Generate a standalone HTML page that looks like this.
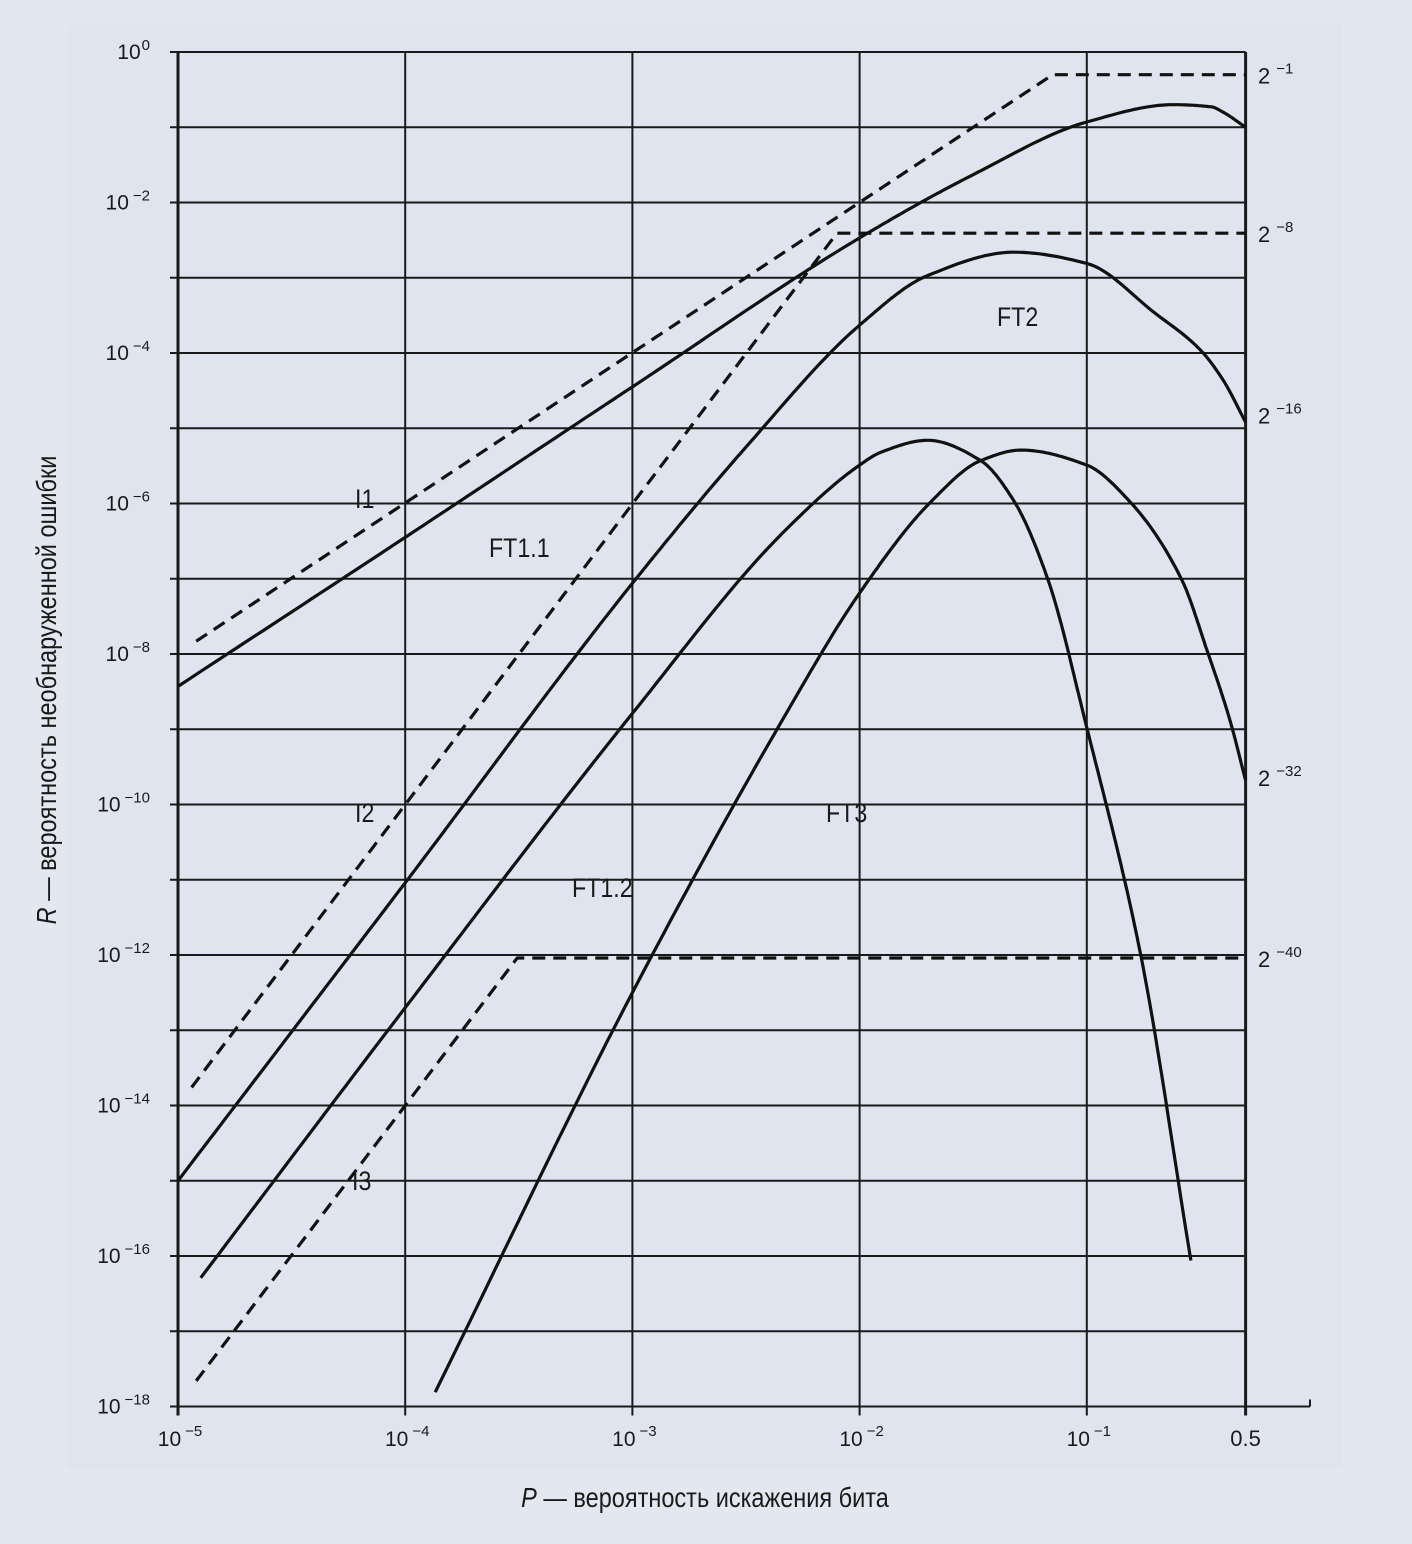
<!DOCTYPE html>
<html><head><meta charset="utf-8">
<style>
html,body{margin:0;padding:0;background:#e3e8f0;}
#wrap{position:relative;width:1412px;height:1544px;background:#e3e8f0;overflow:hidden;}
#panel{position:absolute;left:68px;top:25px;width:1274px;height:1443px;background:#dfe4ef;}
svg{position:absolute;left:0;top:0;}
text{font-family:"Liberation Sans","DejaVu Sans",sans-serif;fill:#1a1a1a;}
</style></head>
<body>
<div id="wrap">
<div id="panel"></div>
<svg id="chart" width="1412" height="1544"></svg>
</div>
<script>
// ---- data (log10 values) ----
const xTickExps = [-5,-4,-3,-2,-1];
const xTickLabels = ["10","10","10","10","10"];
const xTickSups = ["−5","−4","−3","−2","−1"];
const yTickExps = [0,-2,-4,-6,-8,-10,-12,-14,-16,-18];
const yTickSups = ["0","−2","−4","−6","−8","−10","−12","−14","−16","−18"];
const rightLabelVals = [-1,-8,-16,-32,-40]; // powers of 2

// Dashed bounds I1, I2, I3
const i1LogP = [-4.92,-1.15,-0.301];
const i1LogR = [-7.83,-0.301,-0.301];
const i2LogP = [-4.94,-2.10,-0.301];
const i2LogR = [-13.76,-2.408,-2.408];
const i3LogP = [-4.92,-3.507,-0.301];
const i3LogR = [-17.66,-12.04,-12.04];

// Solid curves
const aLogP = [-5,-4,-3,-2,-1.5,-1,-0.62,-0.45,-0.40,-0.301];
const aLogR = [-8.43,-6.45,-4.45,-2.47,-1.63,-0.93,-0.70,-0.73,-0.80,-1.0];
const ft2LogP = [-5,-4,-3,-2.5,-2,-1.7,-1.32,-1,-0.7,-0.5,-0.4,-0.301];
const ft2LogR = [-15.0,-11.04,-7.06,-5.25,-3.63,-2.97,-2.66,-2.81,-3.47,-3.96,-4.36,-4.92];
const cLogP = [-4.90,-4,-3,-2.348,-2,-1.907,-1.70,-1.467,-1.322,-1.17,-1.0,-0.762,-0.542];
const cLogR = [-16.29,-12.7,-8.79,-6.42,-5.49,-5.32,-5.16,-5.43,-5.96,-7.02,-8.98,-12.01,-16.06];
const dLogP = [-3.868,-3,-2.348,-2,-1.687,-1.467,-1.29,-1.0,-0.815,-0.581,-0.471,-0.37,-0.301];
const dLogR = [-17.81,-12.5,-8.92,-7.19,-5.98,-5.43,-5.29,-5.49,-5.96,-7.02,-7.95,-8.88,-9.68];

// ---- axes ----
const X0 = 178, XDEC = 227.2;
const Y0 = 52, YDEC = 75.25;
function xs(lp){ return X0 + (lp + 5) * XDEC; }
function ys(lr){ return Y0 - lr * YDEC; }
const XR = xs(Math.log10(0.5));
const YB = ys(-18);

const NS = "http://www.w3.org/2000/svg";
const svg = document.getElementById('chart');
function mk(tag, attrs, parent){
  const e = document.createElementNS(NS, tag);
  for (const k in attrs) e.setAttribute(k, attrs[k]);
  (parent||svg).appendChild(e);
  return e;
}

// grid
const grid = mk('g', {stroke:'#1a1a1a','stroke-width':2,fill:'none'});


for (let d = 0; d >= -18; d--) {
  const y = ys(d);
  const ln = mk('line', {x1:170, x2:(d===-18?1310:XR), y1:y, y2:y}, grid);
  
  
}
xTickExps.concat([Math.log10(0.5)]).forEach(function(e){
  const x = xs(e);
  const ln = mk('line', {x1:x, x2:x, y1:Y0, y2:YB+9, 'stroke-width':(e===-5||e>-0.5)?3:2}, grid);
  
  
});
const endTick = mk('line', {x1:1310, x2:1310, y1:YB-7, y2:YB}, grid);



// y tick labels
yTickExps.forEach(function(e, i){
  const t = mk('text', {x:150, y:ys(e)+7, 'text-anchor':'end', 'font-size':21});
  
  
  const b = mk('tspan', {}, t); b.textContent = '10';
  const s = mk('tspan', {dy:-9, 'font-size':15, dx:(e===0?1:4)}, t); s.textContent = yTickSups[i];
});
// x tick labels
xTickExps.forEach(function(e, i){
  const t = mk('text', {x:xs(e)+2, y:1446, 'text-anchor':'middle', 'font-size':21});
  
  
  const b = mk('tspan', {}, t); b.textContent = xTickLabels[i];
  const s = mk('tspan', {dy:-10, 'font-size':15, dx:4}, t); s.textContent = xTickSups[i];
});
const half = mk('text', {x:XR, y:1446, 'text-anchor':'middle', 'font-size':22});
half.textContent = '0.5';



// right labels (powers of 2)
rightLabelVals.forEach(function(p){
  const y = ys(p * Math.log10(2));
  const t = mk('text', {x:1258, y:y+9, 'font-size':22});
  
  
  const b = mk('tspan', {}, t); b.textContent = '2';
  const s = mk('tspan', {dy:-10, dx:6, 'font-size':15}, t); s.textContent = '−' + (-p);
});

// monotone cubic interpolation (Fritsch-Carlson) in log space, sampled densely
function smoothPath(lp, lr){
  const n = lp.length;
  const dx = [], sl = [];
  for (let i = 0; i < n-1; i++){ dx.push(lp[i+1]-lp[i]); sl.push((lr[i+1]-lr[i])/dx[i]); }
  const m = new Array(n);
  m[0] = sl[0]; m[n-1] = sl[n-2];
  for (let i = 1; i < n-1; i++){
    if (sl[i-1]*sl[i] <= 0) m[i] = 0;
    else { const w1 = 2*dx[i]+dx[i-1], w2 = dx[i]+2*dx[i-1]; m[i] = (w1+w2)/(w1/sl[i-1]+w2/sl[i]); }
  }
  let d = 'M' + xs(lp[0]).toFixed(1) + ',' + ys(lr[0]).toFixed(1);
  for (let i = 0; i < n-1; i++){
    const h = dx[i], steps = 24;
    for (let k = 1; k <= steps; k++){
      const t = k/steps, t2 = t*t, t3 = t2*t;
      const v = (2*t3-3*t2+1)*lr[i] + (t3-2*t2+t)*h*m[i] + (-2*t3+3*t2)*lr[i+1] + (t3-t2)*h*m[i+1];
      d += ' L' + xs(lp[i]+t*h).toFixed(1) + ',' + ys(v).toFixed(1);
    }
  }
  return d;
}
function linePath(lp, lr){
  return lp.map(function(v,i){ return (i?'L':'M') + xs(v).toFixed(1) + ',' + ys(lr[i]).toFixed(1); }).join(' ');
}
const curves = mk('g', {fill:'none', stroke:'#111', 'stroke-width':3.2, 'stroke-linejoin':'round'});



const pI1 = mk('path', {d:linePath(i1LogP,i1LogR), 'stroke-dasharray':'13 8'}, curves);


const pI2 = mk('path', {d:linePath(i2LogP,i2LogR), 'stroke-dasharray':'13 8'}, curves);


const pI3 = mk('path', {d:linePath(i3LogP,i3LogR), 'stroke-dasharray':'13 8'}, curves);


const pA = mk('path', {d:smoothPath(aLogP,aLogR)}, curves);


const pB = mk('path', {d:smoothPath(ft2LogP,ft2LogR)}, curves);


const pC = mk('path', {d:smoothPath(cLogP,cLogR)}, curves);


const pD = mk('path', {d:smoothPath(dLogP,dLogR)}, curves);



// curve labels
const labelNames = ['I1','I2','I3','FT1.1','FT1.2','FT2','FT3'];
const labelX = [355,355,352,489,572,997,826];
const labelY = [508,822,1190,557,897,326,822];
labelNames.forEach(function(n, i){
  const t = mk('text', {x:labelX[i], y:labelY[i], 'font-size':27, transform:'translate('+labelX[i]+',0) scale(0.86,1) translate('+(-labelX[i])+',0)'});
  t.textContent = n;
  
  
});

// axis titles
const xt = mk('text', {x:705, y:1507, 'text-anchor':'middle', 'font-size':28, transform:'translate(705,0) scale(0.84,1) translate(-705,0)'});


const xi = mk('tspan', {'font-style':'italic'}, xt); xi.textContent = 'P';
const xr = mk('tspan', {}, xt); xr.textContent = ' — вероятность искажения бита';

const yt = mk('text', {x:0, y:0, 'text-anchor':'middle', 'font-size':28, transform:'translate(56,690) rotate(-90) scale(0.84,1)'});


const yi = mk('tspan', {'font-style':'italic'}, yt); yi.textContent = 'R';
const yr = mk('tspan', {}, yt); yr.textContent = ' — вероятность необнаруженной ошибки';
</script>
</body></html>
